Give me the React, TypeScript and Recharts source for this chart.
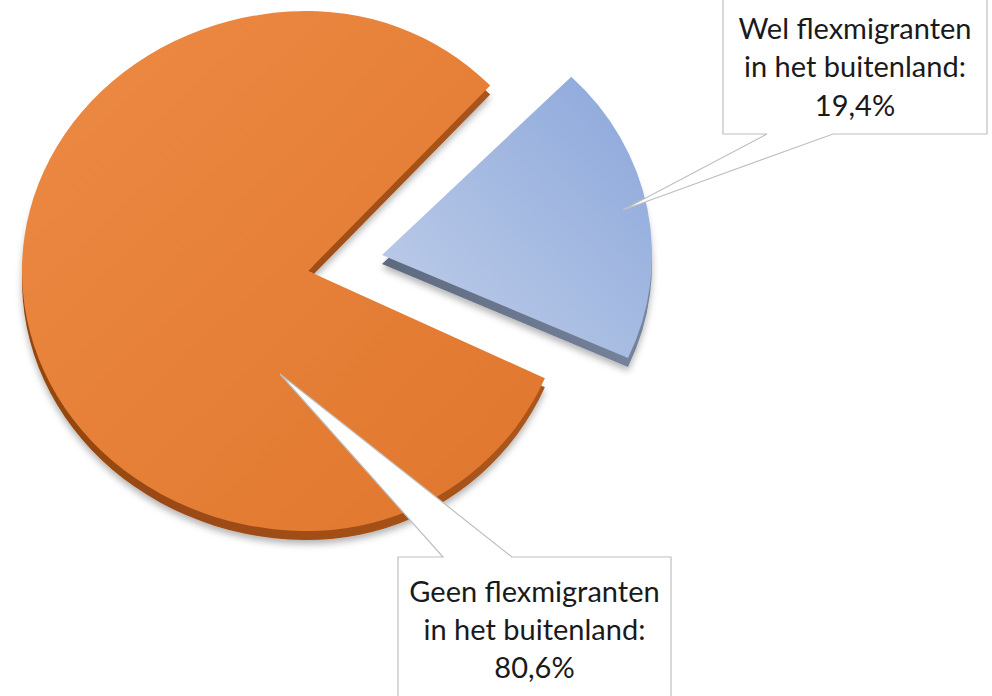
import React from 'react';
import { PieChart, Pie, Cell } from 'recharts';

const categories = ['Wel flexmigranten in het buitenland', 'Geen flexmigranten in het buitenland'];
const shares = [19.4, 80.6];
const labelLines = [
  ['Wel flexmigranten', 'in het buitenland:'],
  ['Geen flexmigranten', 'in het buitenland:'],
];

const data = categories.map((name, i) => ({ name, value: shares[i] }));

const W = 992;
const H = 696;
const START = 45.5;
const END = START - 360;
const DEPTH = 9;
const O = { cx: 308, cy: 271, r: 260, sx: 1.1 };
const B = { cx: 382, cy: 255, r: 250, sx: 1.08 };

const fmt = (v: number) => v.toFixed(1).replace('.', ',') + '%';

const FONT = 'Lato, "Open Sans", sans-serif';
const FS = 29;

const renderCallout = (props: any) => {
  const { cx, cy, index, value } = props;
  const lines = [...labelLines[index], fmt(value)];
  if (index === 0) {
    const left = cx + 415, right = cx + 679, bottom = cy - 137, top = -5;
    const b1 = cx + 459, b2 = cx + 525;
    const tip = { x: cx + 315, y: cy - 61 };
    const mid = (left + right) / 2;
    const d = `M${left},${top} L${right},${top} L${right},${bottom} L${b2},${bottom} L${tip.x},${tip.y} L${b1},${bottom} L${left},${bottom} Z`;
    const bases = [cy - 232, cy - 194, cy - 155];
    return (
      <g key="c0">
        <path d={d} fill="#fff" stroke="#BFBFBF" strokeWidth={1.2} />
        {lines.map((t, i) => (
          <text key={i} x={mid} y={bases[i]} textAnchor="middle" fontFamily={FONT} fontSize={FS} fill="#1a1a1a">{t}</text>
        ))}
      </g>
    );
  }
  const left = cx + 90, right = cx + 363, top = cy + 286, bottom = H + 5;
  const b1 = cx + 135, b2 = cx + 204;
  const tip = { x: cx - 28, y: cy + 103 };
  const mid = (left + right) / 2;
  const d = `M${left},${top} L${b1},${top} L${tip.x},${tip.y} L${b2},${top} L${right},${top} L${right},${bottom} L${left},${bottom} Z`;
  const bases = [cy + 331, cy + 369, cy + 407];
  return (
    <g key="c1">
      <path d={d} fill="#fff" stroke="#BFBFBF" strokeWidth={1.2} />
      {lines.map((t, i) => (
        <text key={i} x={mid} y={bases[i]} textAnchor="middle" fontFamily={FONT} fontSize={FS} fill="#1a1a1a">{t}</text>
      ))}
    </g>
  );
};

const css = `
.pie-o-side-l { clip-path: url(#clipSL); }
.pie-o-side-l .recharts-pie-sector { transform-origin: ${O.cx}px ${O.cy + DEPTH}px; transform: scaleX(${O.sx}); }
.pie-o-side-r { clip-path: url(#clipSR); }
.pie-o-side-l .recharts-pie-sector path, .pie-o-side-r .recharts-pie-sector path { filter: url(#sh); }
.pie-o-top-l { clip-path: url(#clipL); }
.pie-o-top-l .recharts-pie-sector { transform-origin: ${O.cx}px ${O.cy}px; transform: scaleX(${O.sx}); }
.pie-o-top-r { clip-path: url(#clipR); }
.pie-b-side .recharts-pie-sector { transform-origin: ${B.cx}px ${B.cy + DEPTH}px; transform: scaleX(${B.sx}); }
.pie-b-side .recharts-pie-sector path { filter: url(#sh); }
.pie-b-top .recharts-pie-sector { transform-origin: ${B.cx}px ${B.cy}px; transform: scaleX(${B.sx}); }
`;

const sideO = (cls: string) => (
  <Pie key={cls} data={data} dataKey="value" cx={O.cx} cy={O.cy + DEPTH} outerRadius={O.r} startAngle={START} endAngle={END}
    isAnimationActive={false} stroke="none" className={cls} labelLine={false}>
    <Cell fill="none" />
    <Cell fill="url(#gOs)" />
  </Pie>
);

const topO = (cls: string) => (
  <Pie key={cls} data={data} dataKey="value" cx={O.cx} cy={O.cy} outerRadius={O.r} startAngle={START} endAngle={END}
    isAnimationActive={false} stroke="none" className={cls} labelLine={false}>
    <Cell fill="none" />
    <Cell fill="url(#gO)" />
  </Pie>
);

export default function App() {
  return (
    <div style={{ position: 'absolute', left: 0, top: 0, width: W, height: H, background: '#fff', overflow: 'hidden' }}>
      <style>{css}</style>
      <svg width={0} height={0} style={{ position: 'absolute' }}>
        <defs>
          <linearGradient id="gO" x1="0" y1="0" x2="1" y2="1">
            <stop offset="0%" stopColor="#EC8A44" />
            <stop offset="100%" stopColor="#E0762C" />
          </linearGradient>
          <linearGradient id="gOs" x1="0" y1="0" x2="1" y2="0">
            <stop offset="0%" stopColor="#94450F" />
            <stop offset="100%" stopColor="#AC561C" />
          </linearGradient>
          <linearGradient id="gB" x1="0" y1="1" x2="1" y2="0">
            <stop offset="0%" stopColor="#C2D0EA" />
            <stop offset="100%" stopColor="#8AA6DA" />
          </linearGradient>
          <linearGradient id="gBs" x1="0" y1="0" x2="1" y2="0">
            <stop offset="0%" stopColor="#5E6A80" />
            <stop offset="100%" stopColor="#76849C" />
          </linearGradient>
          <clipPath id="clipL" clipPathUnits="userSpaceOnUse">
            <rect x={0} y={0} width={O.cx + 5} height={H} />
          </clipPath>
          <clipPath id="clipR" clipPathUnits="userSpaceOnUse">
            <rect x={O.cx - 5} y={0} width={W} height={H} />
          </clipPath>
          <clipPath id="clipSL" clipPathUnits="userSpaceOnUse">
            <rect x={0} y={0} width={O.cx} height={H} />
          </clipPath>
          <clipPath id="clipSR" clipPathUnits="userSpaceOnUse">
            <rect x={O.cx} y={0} width={W} height={H} />
          </clipPath>
          <filter id="sh" x="-10%" y="-10%" width="130%" height="130%">
            <feDropShadow dx="0" dy="4" stdDeviation="3.5" floodColor="#000" floodOpacity="0.3" />
          </filter>
        </defs>
      </svg>
      <PieChart width={W} height={H} margin={{ top: 0, right: 0, bottom: 0, left: 0 }}>
        {sideO('pie-o-side-l')}
        {sideO('pie-o-side-r')}
        {topO('pie-o-top-l')}
        {topO('pie-o-top-r')}
        <Pie data={data} dataKey="value" cx={B.cx} cy={B.cy + DEPTH} outerRadius={B.r} startAngle={START} endAngle={END}
          isAnimationActive={false} stroke="none" className="pie-b-side" labelLine={false}>
          <Cell fill="url(#gBs)" />
          <Cell fill="none" />
        </Pie>
        <Pie data={data} dataKey="value" cx={B.cx} cy={B.cy} outerRadius={B.r} startAngle={START} endAngle={END}
          isAnimationActive={false} stroke="none" className="pie-b-top" labelLine={false}>
          <Cell fill="url(#gB)" />
          <Cell fill="none" />
        </Pie>
        <Pie data={data} dataKey="value" cx={O.cx} cy={O.cy} outerRadius={O.r} startAngle={START} endAngle={END}
          isAnimationActive={false} stroke="none" fill="none" labelLine={false} label={renderCallout}>
          <Cell fill="none" />
          <Cell fill="none" />
        </Pie>
      </PieChart>
    </div>
  );
}
